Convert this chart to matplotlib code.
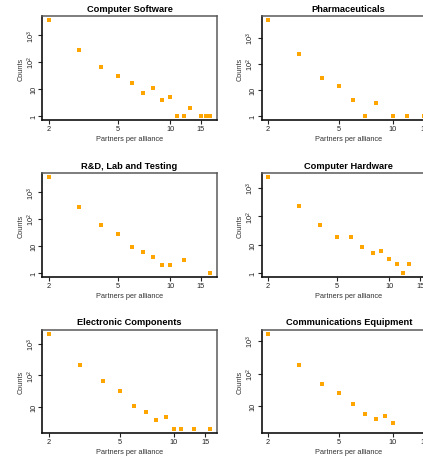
import numpy as np
import matplotlib
matplotlib.use("Agg")
import matplotlib.pyplot as plt
from matplotlib.ticker import FixedLocator, NullLocator

plt.rcParams['font.family'] = ['Liberation Sans', 'DejaVu Sans']
plt.rcParams['mathtext.fontset'] = 'custom'
plt.rcParams['mathtext.rm'] = 'Liberation Sans'
plt.rcParams['mathtext.it'] = 'Liberation Sans'
plt.rcParams['mathtext.bf'] = 'Liberation Sans:bold'

titles = ["Computer Software", "Pharmaceuticals", "R&D, Lab and Testing",
          "Computer Hardware", "Electronic Components", "Communications Equipment"]

cs_x = [2, 3, 4, 5, 6, 7, 8, 9, 10, 11, 12, 13, 15, 16, 17]
cs_y = [3600, 280, 63, 30, 17, 7, 11, 4, 5, 1, 1, 2, 1, 1, 1]
ph_x = [2, 3, 4, 5, 6, 7, 8, 10, 12, 15]
ph_y = [4900, 250, 29, 14, 4, 1, 3, 1, 1, 1]
rd_x = [2, 3, 4, 5, 6, 7, 8, 9, 10, 12, 17]
rd_y = [3600, 288, 62, 28, 9, 6, 4, 2, 2, 3, 1]
ch_x = [2, 3, 4, 5, 6, 7, 8, 9, 10, 11, 12, 13, 16]
ch_y = [2400, 228, 50, 18, 18, 8, 5, 6, 3, 2, 1, 2, 2]
ec_x = [2, 3, 4, 5, 6, 7, 8, 9, 10, 11, 13, 16]
ec_y = [2100, 210, 68, 32, 11, 7, 4, 5, 2, 2, 2, 2]
ce_x = [2, 3, 4, 5, 6, 7, 8, 9, 10]
ce_y = [1660, 176, 49, 26, 12, 6, 4, 5, 3]

series = [(cs_x, cs_y), (ph_x, ph_y), (rd_x, rd_y), (ch_x, ch_y), (ec_x, ec_y), (ce_x, ce_y)]

# full data extents of each panel (some points fall outside the cropped image)
x_extent = [(2, 17), (2, 16), (2, 17), (2, 17), (2, 16), (2, 16)]
y_extent = [(1, 3600), (1, 4900), (1, 3600), (1, 2400), (2, 2100), (2, 1660)]

x_ticks = [2, 5, 10, 15]
x_tick_labels = ["2", "5", "10", "15"]
y_ticks = [1, 10, 100, 1000]
y_tick_labels = ["1", "10", r"$10^2$", r"$10^3$"]

W, H = 423, 460
fig = plt.figure(figsize=(W / 100, H / 100), dpi=100)

col_x = [42.3, 261.5]
row_top = [17.3, 174.3, 330.7]
aw, ah = 174.4, 103.4


def r_lim(lo, hi):
    a, b = np.log10(lo), np.log10(hi)
    d = (b - a) * 0.04
    return 10 ** (a - d), 10 ** (b + d)


for i, (xs, ys) in enumerate(series):
    r, c = divmod(i, 2)
    ax = fig.add_axes([col_x[c] / W, (H - row_top[r] - ah) / H, aw / W, ah / H])
    ax.set_xscale('log')
    ax.set_yscale('log')
    ax.plot(xs, ys, 's', color='#FFA500', markersize=3.1, markeredgewidth=0, clip_on=False)
    xl = r_lim(*x_extent[i])
    yl = r_lim(*y_extent[i])
    ax.set_xlim(xl)
    ax.set_ylim(yl)
    ax.xaxis.set_major_locator(FixedLocator(x_ticks))
    ax.set_xticklabels(x_tick_labels)
    ax.xaxis.set_minor_locator(NullLocator())
    yt = [t for t in y_ticks if yl[0] <= t <= yl[1]]
    ytl = [l for t, l in zip(y_ticks, y_tick_labels) if yl[0] <= t <= yl[1]]
    ax.yaxis.set_major_locator(FixedLocator(yt))
    ax.set_yticklabels(ytl, rotation=90, va='center')
    ax.yaxis.set_minor_locator(NullLocator())
    ax.tick_params(direction='out', length=2.6, width=0.8, labelsize=5.3, pad=1.0, colors='#222222')
    for s in ['left', 'bottom']:
        ax.spines[s].set_linewidth(1.2)
        ax.spines[s].set_color('#111111')
    for s in ['top', 'right']:
        ax.spines[s].set_linewidth(1.1)
        ax.spines[s].set_color('#5a5a5a')
    ax.set_title(titles[i], fontsize=6.7, fontweight='bold', pad=4)
    ax.set_xlabel("Partners per alliance", fontsize=5.3, color='#333333', va='center')
    ax.set_ylabel("Counts", fontsize=5.3, color='#333333', va='center')
    ax.xaxis.set_label_coords(0.5, -18.5 / ah)
    ax.yaxis.set_label_coords(-21.0 / aw, 0.5)

fig.savefig("out.png", dpi=100)
